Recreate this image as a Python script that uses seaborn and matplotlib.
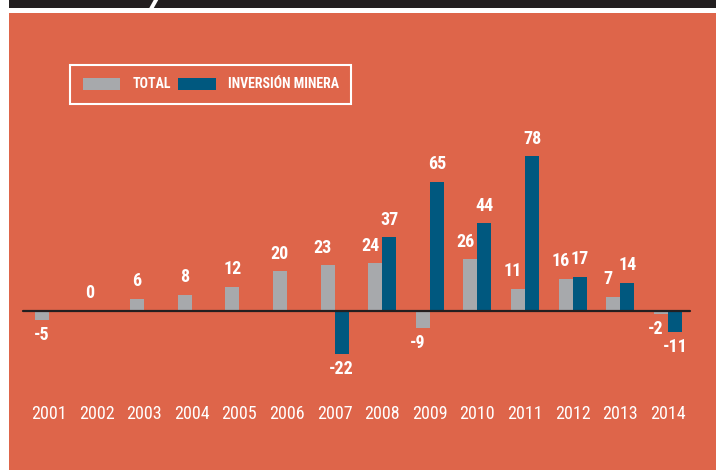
import numpy as np
import pandas as pd
import matplotlib
matplotlib.use("Agg")
import matplotlib.pyplot as plt
from matplotlib import font_manager as fm
from matplotlib.font_manager import FontProperties
from matplotlib.patches import Rectangle, Polygon
import seaborn as sns

# ---- data ----
years = ["2001", "2002", "2003", "2004", "2005", "2006", "2007",
         "2008", "2009", "2010", "2011", "2012", "2013", "2014"]
total = [-5, 0, 6, 8, 12, 20, 23, 24, -9, 26, 11, 16, 7, -2]
inversion_minera = [np.nan, np.nan, np.nan, np.nan, np.nan, np.nan, -22,
                    37, 65, 44, 78, 17, 14, -11]
series_names = ["TOTAL", "INVERSIÓN MINERA"]

# ---- style ----
ORANGE = "#DE654A"
GRAY = "#A7A9AC"
BLUE = "#00587F"
DARK = "#231F20"

sns.set_theme(style="white")
plt.rcParams["font.family"] = ["DejaVu Sans"]


def is_cond(f):
    s = str(f.stretch).lower()
    n = (f.name + " " + f.fname).lower()
    return ("condensed" in s and "semi" not in s and "extra" not in s and "ultra" not in s) or \
           ("narrow" in n) or (("condensed" in n) and ("semi" not in n) and ("extra" not in n))


def wnum(w):
    table = {"normal": 400, "regular": 400, "bold": 700, "medium": 500, "book": 400,
             "light": 300, "semibold": 600, "demibold": 600}
    if isinstance(w, (int, float)):
        return w
    return table.get(str(w).lower(), 400)


def pick_condensed():
    prefs = ["Liberation Sans Narrow", "Roboto Condensed", "Noto Sans", "Noto Sans Condensed",
             "Open Sans", "Open Sans Condensed", "DejaVu Sans", "DejaVu Sans Condensed"]
    cands = [f for f in fm.fontManager.ttflist
             if is_cond(f) and f.style == "normal" and f.fname.lower().endswith((".ttf", ".otf"))]
    for p in prefs:
        fam = [f for f in cands if f.name == p]
        reg = [f for f in fam if abs(wnum(f.weight) - 400) <= 50]
        bld = [f for f in fam if abs(wnum(f.weight) - 700) <= 50]
        if reg and bld:
            return reg[0].fname, bld[0].fname
    return None, None


reg_file, bold_file = pick_condensed()
if reg_file:
    fp_reg = FontProperties(fname=reg_file)
    fp_bold = FontProperties(fname=bold_file)
    SZ_YEAR, SZ_VAL, SZ_LEG = 13, 13, 10
else:
    fp_reg = FontProperties(family="Roboto")
    fp_bold = FontProperties(family="Roboto", weight="bold")
    SZ_YEAR, SZ_VAL, SZ_LEG = 11, 11, 8.5

df = pd.DataFrame({
    "year": years * 2,
    "serie": [series_names[0]] * len(years) + [series_names[1]] * len(years),
    "value": list(total) + list(inversion_minera),
})

W, H = 716, 470
fig = plt.figure(figsize=(W / 100, H / 100), dpi=100)
fig.patch.set_facecolor("white")


def fx(px):
    return px / W


def fy(py):
    return 1 - py / H


# background panel and top bar (behind the axes)
fig.patches.append(Rectangle((fx(9), 0), fx(W - 9), fy(13), transform=fig.transFigure,
                             facecolor=ORANGE, edgecolor="none", zorder=-3))
fig.patches.append(Rectangle((fx(9), fy(8)), fx(W - 9), 8 / H, transform=fig.transFigure,
                             facecolor=DARK, edgecolor="none", zorder=-3))
fig.patches.append(Polygon([(fx(149), fy(8.5)), (fx(153.5), fy(8.5)), (fx(158.5), fy(-0.5)), (fx(154), fy(-0.5))],
                           closed=True, transform=fig.transFigure,
                           facecolor="white", edgecolor="none", zorder=-2))

# axes: from px x 9..716, y 13..400
ax_top, ax_bot = 13, 400
ax = fig.add_axes([fx(9), fy(ax_bot), fx(W - 9), (ax_bot - ax_top) / H])
ax.set_facecolor("none")

sns.barplot(data=df, x="year", y="value", hue="serie", hue_order=series_names,
            order=years, palette=[GRAY, BLUE], width=0.59, gap=0,
            errorbar=None, linewidth=0, saturation=1, ax=ax, zorder=2)

spacing = 47.6
zero_px = 310.5
ppu = 1.98
ax.set_xlim(-(49 - 9) / spacing, (W - 49) / spacing)
ax.set_ylim(-(ax_bot - zero_px) / ppu, (zero_px - ax_top) / ppu)
ax.axhline(0, xmin=(23 - 9) / (W - 9), xmax=(690 - 9) / (W - 9), color=DARK, lw=1.6, zorder=3)

for s in ax.spines.values():
    s.set_visible(False)
ax.set_yticks([])
ax.set_xlabel("")
ax.set_ylabel("")
ax.tick_params(axis="x", length=0, pad=3.5, labelcolor="white")
for lab in ax.get_xticklabels():
    lab.set_fontproperties(fp_reg)
    lab.set_fontsize(SZ_YEAR)
    lab.set_color("white")

# value labels (gray label nudged left when the group also has a blue bar)
series_vals = [total, inversion_minera]
for k, cont in enumerate(ax.containers):
    for bar in cont:
        xc = bar.get_x() + bar.get_width() / 2
        i = int(round(xc))
        v = series_vals[k][i]
        if v is None or (isinstance(v, float) and np.isnan(v)):
            continue
        paired = k == 0 and not np.isnan(inversion_minera[i])
        dx = -3.5 if paired else 0
        off = 12.5 if v >= 0 else -10.5
        t = ax.annotate(f"{v:g}", (xc, v), xytext=(dx, off), textcoords="offset points",
                        ha="center", va="center", color="white", zorder=4)
        t.set_fontproperties(fp_bold)
        t.set_fontsize(SZ_VAL)

# legend
handles, labels = ax.get_legend_handles_labels()
if ax.get_legend() is not None:
    ax.get_legend().remove()
leg_prop = fp_bold.copy()
leg_prop.set_size(SZ_LEG)
leg = ax.legend(handles, labels, loc="upper left",
                bbox_to_anchor=(fx(70), fy(65)), bbox_transform=fig.transFigure,
                borderaxespad=0, ncol=2, frameon=True, fancybox=False,
                edgecolor="white", facecolor="none", framealpha=1,
                prop=leg_prop,
                handlelength=38 / (SZ_LEG * 1.389), handleheight=13 / (SZ_LEG * 1.389),
                handletextpad=12 / (SZ_LEG * 1.389),
                columnspacing=7 / (SZ_LEG * 1.389), borderpad=0.9)
leg.get_frame().set_linewidth(1.5)
for t in leg.get_texts():
    t.set_color("white")

fig.savefig("out.png", dpi=100, facecolor=fig.get_facecolor())
